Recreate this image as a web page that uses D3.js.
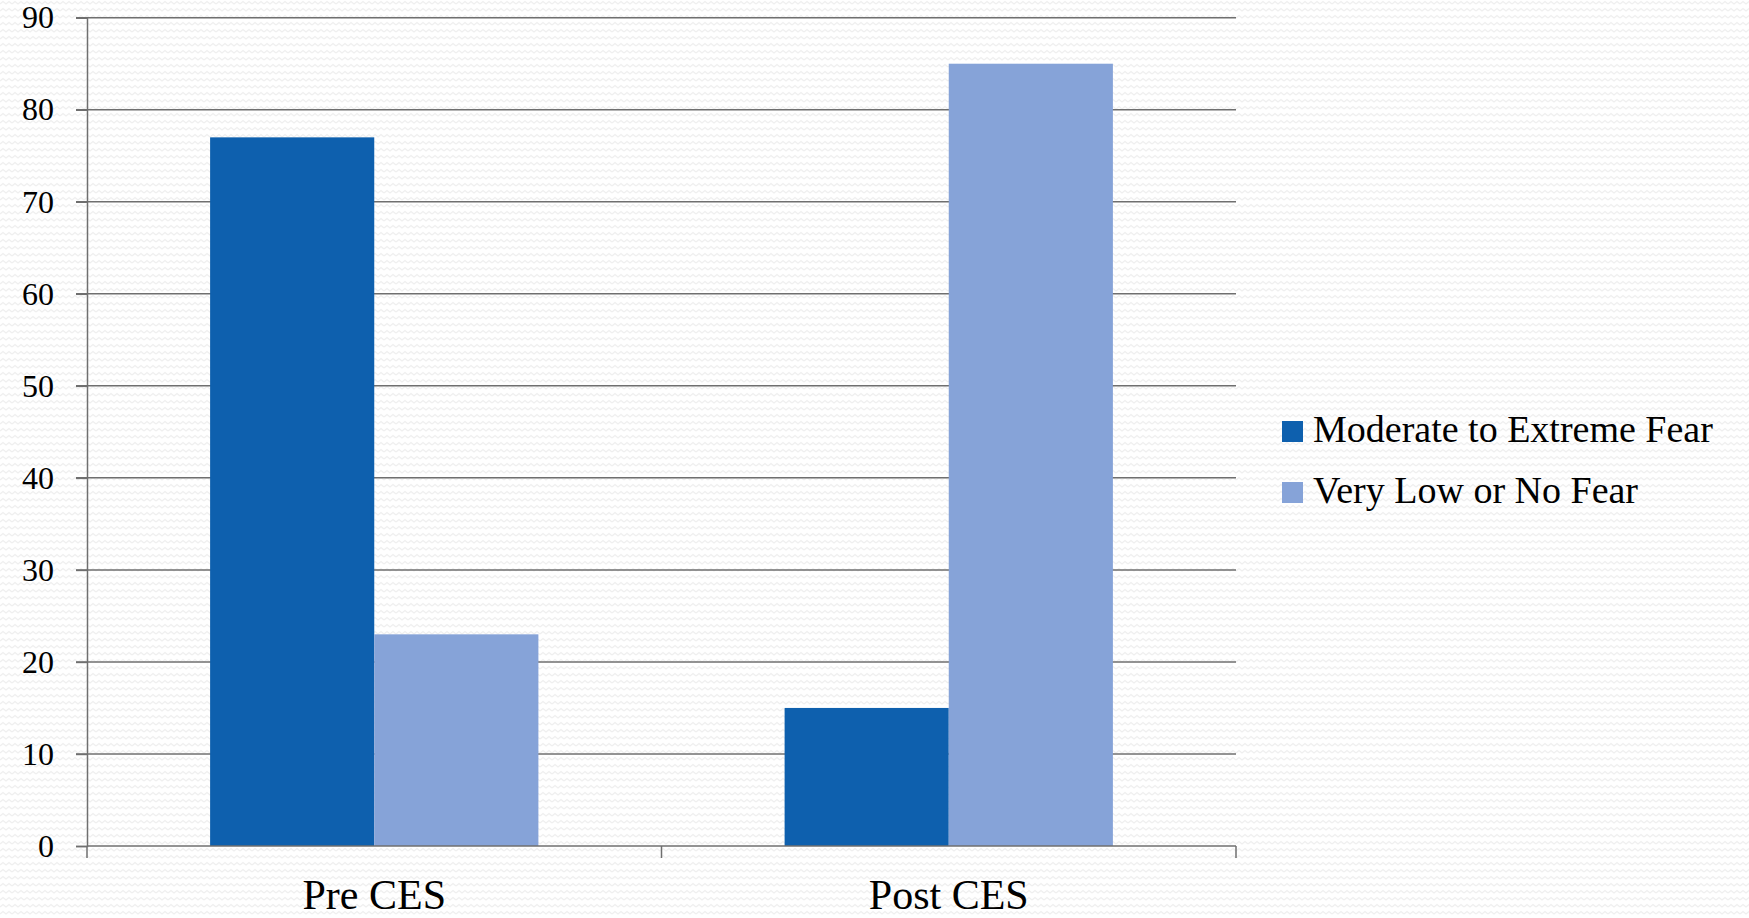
<!DOCTYPE html>
<html>
<head>
<meta charset="utf-8">
<script src="https://cdn.jsdelivr.net/npm/d3@7"></script>
<style>
  html, body { margin: 0; padding: 0; background: #fff; }
  svg { display: block; }
  text { font-family: "Liberation Serif", "Times New Roman", serif; fill: #000; }
</style>
</head>
<body>
<svg id="chart" width="1749" height="918"></svg>
<script>
const categories = ["Pre CES", "Post CES"];
const seriesNames = ["Moderate to Extreme Fear", "Very Low or No Fear"];
const moderateToExtreme = [77, 15];
const veryLowOrNone = [23, 85];
const yTicks = [0, 10, 20, 30, 40, 50, 60, 70, 80, 90];
const colors = ["#0E60AE", "#86A3D8"];

const svg = d3.select("#chart");
const W = 1749, H = 918;

// subtle wavy background texture
const defs = svg.append("defs");
const pat = defs.append("pattern")
  .attr("id", "wave").attr("width", 12).attr("height", 7)
  .attr("patternUnits", "userSpaceOnUse");
pat.append("rect").attr("width", 12).attr("height", 7).attr("fill", "#ffffff");
pat.append("path").attr("d", "M0,4 L3,1.5 L6,4 L9,1.5 L12,4")
  .attr("fill", "none").attr("stroke", "#efefef").attr("stroke-width", 1.2);
svg.append("rect").attr("width", W).attr("height", H).attr("fill", "url(#wave)");

const margin = { left: 87, right: 1236, top: 17.7, bottom: 846 };

const x = d3.scaleBand().domain(categories).range([margin.left, margin.right]).paddingInner(0).paddingOuter(0);
const x1 = d3.scaleBand().domain(seriesNames).range([0, x.bandwidth()]).paddingInner(0).paddingOuter(0.75);
const y = d3.scaleLinear().domain([0, 90]).range([margin.bottom, margin.top]);

const gridColor = "#6f6f6f";

// gridlines
svg.append("g").selectAll("line").data(yTicks.filter(d => d > 0)).join("line")
  .attr("x1", margin.left - 11).attr("x2", margin.right)
  .attr("y1", d => y(d)).attr("y2", d => y(d))
  .attr("stroke", gridColor).attr("stroke-width", 1.5);

// bars
const data = categories.map((c, i) => ({ cat: c, vals: [moderateToExtreme[i], veryLowOrNone[i]] }));
const groups = svg.append("g").selectAll("g").data(data).join("g")
  .attr("transform", d => `translate(${x(d.cat)},0)`);
groups.selectAll("rect").data(d => d.vals.map((v, j) => ({ key: seriesNames[j], v, j }))).join("rect")
  .attr("x", d => x1(d.key)).attr("width", x1.bandwidth())
  .attr("y", d => y(d.v)).attr("height", d => y(0) - y(d.v))
  .attr("fill", d => colors[d.j]);

// y axis
const yAxis = d3.axisLeft(y).tickValues(yTicks).tickSize(11).tickPadding(22);
const gy = svg.append("g").attr("transform", `translate(${margin.left},0)`).call(yAxis);
gy.select(".domain").attr("stroke", gridColor).attr("stroke-width", 1.5);
gy.selectAll(".tick line").attr("stroke", gridColor).attr("stroke-width", 1.5);
gy.selectAll(".tick text").attr("font-size", 32).attr("font-family", "Liberation Serif").attr("fill", "#000");

// x axis with ticks at category boundaries
const gx = svg.append("g").attr("transform", `translate(0,${margin.bottom})`);
gx.append("line").attr("x1", margin.left).attr("x2", margin.right).attr("y1", 0).attr("y2", 0)
  .attr("stroke", gridColor).attr("stroke-width", 1.5);
const bounds = [margin.left].concat(categories.map(c => x(c) + x.bandwidth()));
gx.selectAll("line.tk").data(bounds).join("line").attr("class", "tk")
  .attr("x1", d => d).attr("x2", d => d).attr("y1", 0).attr("y2", 12)
  .attr("stroke", gridColor).attr("stroke-width", 1.5);
gx.selectAll("text").data(categories).join("text")
  .attr("x", d => x(d) + x.bandwidth() / 2).attr("y", 63)
  .attr("text-anchor", "middle").attr("font-size", 42).text(d => d);

// legend
const legend = svg.append("g").attr("transform", "translate(1282,421)");
const li = legend.selectAll("g").data(seriesNames).join("g")
  .attr("transform", (d, i) => `translate(0,${i * 61})`);
li.append("rect").attr("width", 21).attr("height", 21).attr("fill", (d, i) => colors[i]);
li.append("text").attr("x", 31).attr("y", 21).attr("font-size", 38).text(d => d);
</script>
</body>
</html>
